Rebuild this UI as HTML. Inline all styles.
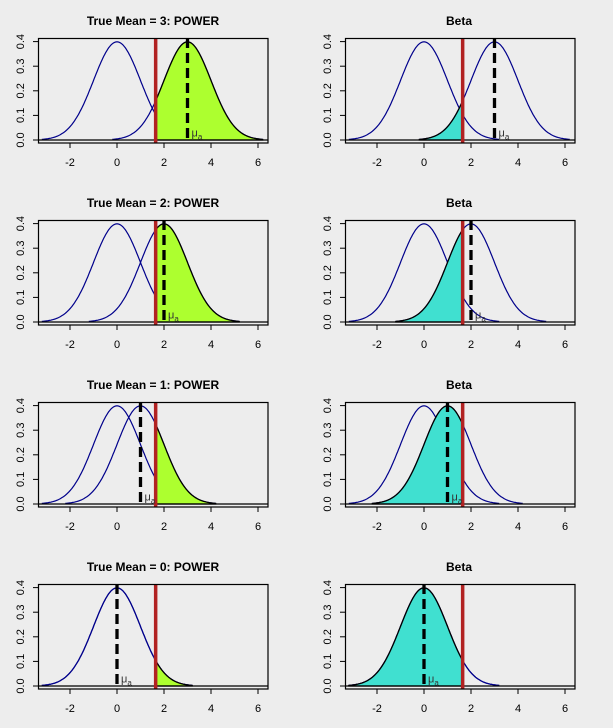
<!DOCTYPE html>
<html><head><meta charset="utf-8"><style>
body{margin:0;background:#ededed;}
svg{display:block;font-family:"Liberation Sans",sans-serif;}
</style></head><body>
<svg id="c" width="613" height="728"></svg>
<script>
const means=[3,2,1,0];
const titlesLeft=["True Mean = 3: POWER","True Mean = 2: POWER","True Mean = 1: POWER","True Mean = 0: POWER"];
const xTicks=[-2,0,2,4,6];
const yTicks=[0.0,0.1,0.2,0.3,0.4];
const crit=1.645;
const NS="http://www.w3.org/2000/svg";
const svg=document.getElementById('c');
function mk(t,a,p){const e=document.createElementNS(NS,t);for(const k in a)e.setAttribute(k,a[k]);(p||svg).appendChild(e);return e;}
function dn(x,m){return Math.exp(-0.5*(x-m)*(x-m))/Math.sqrt(2*Math.PI);}
for(let r=0;r<4;r++){for(let c=0;c<2;c++){
  const ox=c*307, oy=r*182;
  const X=v=>117+ox+23.5*v, Y=v=>140+oy-246*v;
  const g=mk('g',{});
  
  
  const m=means[r];
  [[0,'null-curve'],[m,'alt-curve']].forEach(([mu,nm])=>{let d='';for(let i=0;i<=160;i++){const x=mu-3.2+6.4*i/160;d+=(i?'L':'M')+X(x).toFixed(1)+','+Y(dn(x,mu)).toFixed(1);}
    const p=mk('path',{d:d,fill:'none',stroke:'#00008b','stroke-width':1.2},g);});
  let a,b; if(c===0){a=crit;b=m+3.2;}else{a=m-3.2;b=crit;}
  if(b>a){let pts=[[X(a),Y(0)]];for(let i=0;i<=120;i++){const x=a+(b-a)*i/120;pts.push([X(x),Y(dn(x,m))]);}pts.push([X(b),Y(0)]);
    const p=mk('polygon',{points:pts.map(q=>q.join(',')).join(' '),fill:c?'#40e0d0':'#adff2f',stroke:'#000','stroke-width':1.3},g);
    }
  const h=mk('line',{x1:38.5+ox,x2:268+ox,y1:Y(0),y2:Y(0),stroke:'#000','stroke-width':1.3},g);
  
  const cl=mk('line',{x1:X(crit),x2:X(crit),y1:38+oy,y2:143+oy,stroke:'#b22222','stroke-width':3.5},g);
  
  const ml=mk('line',{x1:X(m),x2:X(m),y1:38+oy,y2:143+oy,stroke:'#000','stroke-width':3.3,'stroke-dasharray':'10,5'},g);
  
  const mt=mk('text',{x:X(m)+4,y:Y(0.03)+4,'font-size':11,fill:'#333'},g);
  mt.innerHTML='μ<tspan font-size="8" dy="3">a</tspan>';
  
  const box=mk('rect',{x:38.5+ox,y:38.5+oy,width:229.5,height:104.5,fill:'none',stroke:'#000','stroke-width':1.2},g);
  
  const t=mk('text',{x:c?459:153,y:25+oy,'text-anchor':'middle','font-size':12,'font-weight':'bold',fill:'#000'},g);
  t.textContent=c?'Beta':titlesLeft[r];
  xTicks.forEach(v=>{mk('line',{x1:X(v),x2:X(v),y1:143+oy,y2:148+oy,stroke:'#000'},g);
    const tt=mk('text',{x:X(v),y:166+oy,'text-anchor':'middle','font-size':11,fill:'#000'},g);tt.textContent=v;
    });
  yTicks.forEach(v=>{mk('line',{x1:33+ox,x2:38.5+ox,y1:Y(v),y2:Y(v),stroke:'#000'},g);
    const tt=mk('text',{x:0,y:0,'text-anchor':'middle','font-size':11,fill:'#000',transform:`translate(${24+ox},${Y(v)}) rotate(-90)`},g);tt.textContent=v.toFixed(1);
    });
}}
</script>
</body></html>
